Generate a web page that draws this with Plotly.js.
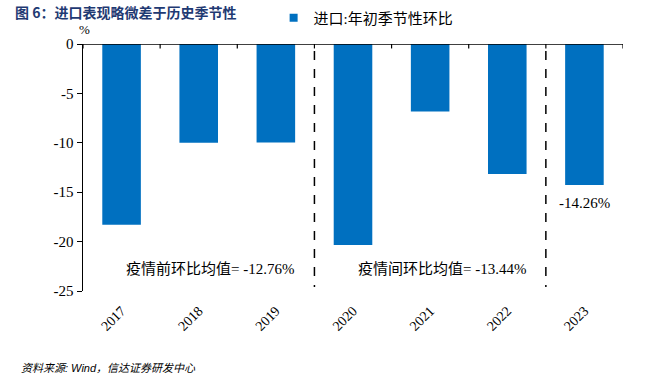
<!DOCTYPE html>
<html><head><meta charset="utf-8">
<script src="https://cdn.plot.ly/plotly-3.0.1.min.js"></script>
<style>body{margin:0;background:#fff}#c{width:652px;height:392px}</style>
</head><body><div id="c"></div>
<script>
const years = ["2017","2018","2019","2020","2021","2022","2023"];
const values = [-18.3, -10.0, -9.98, -20.35, -6.82, -13.15, -14.26];
const seriesName = "进口:年初季节性环比";
const yTicks = [0, -5, -10, -15, -20, -25];
const preAvgText = "疫情前环比均值= -12.76%";
const midAvgText = "疫情间环比均值= -13.44%";
const lastLabel = "-14.26%";

const serif = "Liberation Serif, Times New Roman, Noto Sans CJK SC, serif";
const blue = "#0070c0";

const traces = [
  {type:"bar", x:years, y:values, name:seriesName, marker:{color:blue}, width:0.5,
   hoverinfo:"skip", showlegend:false},
  {type:"scatter", x:years, y:values.map(()=>null), name:seriesName,
   showlegend:true, hoverinfo:"skip", mode:"markers",
   marker:{symbol:"square", size:8, color:blue}}
];

// category boundary tick marks on the zero line (decoration)
const shapes = [
  {type:"line", xref:"x", yref:"y", x0:-0.55, x1:6.5, y0:0, y1:0, line:{color:"#000", width:1.5}}
];
for (let i = 0; i <= years.length; i++) {
  shapes.push({type:"line", xref:"x", yref:"y", x0:i-0.5, x1:i-0.5, y0:0, y1:-0.45,
               line:{color:"#000", width:1.2}});
}
shapes.push({type:"line", xref:"x", yref:"y", x0:2.5, x1:2.5, y0:-0.7, y1:-24.6,
             line:{color:"#000", width:1.5, dash:"dash"}});
shapes.push({type:"line", xref:"x", yref:"y", x0:5.5, x1:5.5, y0:-0.7, y1:-24.6,
             line:{color:"#000", width:1.5, dash:"dash"}});

const layout = {
  width:652, height:392,
  margin:{l:83, r:29, t:44, b:101, autoexpand:false},
  paper_bgcolor:"#fff", plot_bgcolor:"#fff",
  font:{family:serif, size:14, color:"#000"},
  showlegend:true,
  legend:{orientation:"h", x:0.353, y:1.105, xanchor:"left", yanchor:"middle",
          font:{family:serif, size:15}, itemwidth:30, bgcolor:"rgba(0,0,0,0)"},
  bargap:0.5,
  xaxis:{type:"category", categoryorder:"array", categoryarray:years,
         range:[-0.5, 6.5], showline:false, ticks:"", showgrid:false, zeroline:false,
         tickangle:-45, tickfont:{family:serif, size:14}, ticklabelstandoff:8},
  yaxis:{range:[-25, 0], tickvals:yTicks, ticktext:yTicks.map(String),
         showline:true, linecolor:"#000", linewidth:1.5, ticks:"outside", ticklen:5,
         tickcolor:"#000", showgrid:false, zeroline:false,
         tickfont:{family:serif, size:15}},
  shapes:shapes,
  annotations:[
    {text:"图 6：进口表现略微差于历史季节性", xref:"paper", yref:"paper",
     x:-0.13, y:1.13, xanchor:"left", yanchor:"middle", showarrow:false,
     font:{family:"Noto Sans CJK SC, sans-serif", size:14, color:"#1f3a73", weight:700}},
    {text:"%", xref:"paper", yref:"paper", x:-0.012, y:1.06, xanchor:"left", yanchor:"middle",
     showarrow:false, font:{family:serif, size:13}},
    {text:preAvgText, xref:"x", yref:"y", x:1.15, y:-22.8, showarrow:false,
     font:{family:serif, size:15}},
    {text:midAvgText, xref:"x", yref:"y", x:4.15, y:-22.8, showarrow:false,
     font:{family:serif, size:15}},
    {text:lastLabel, xref:"x", yref:"y", x:6, y:values[6], yshift:-18, showarrow:false,
     font:{family:serif, size:15}},
    {text:"资料来源: Wind，信达证券研发中心", xref:"paper", yref:"paper", x:-0.118, y:-0.31,
     xanchor:"left", yanchor:"middle", showarrow:false,
     font:{family:"Liberation Sans, Noto Sans CJK SC, sans-serif", size:11, style:"italic"}}
  ]
};
Plotly.newPlot("c", traces, layout, {staticPlot:true, displayModeBar:false});
</script></body></html>
